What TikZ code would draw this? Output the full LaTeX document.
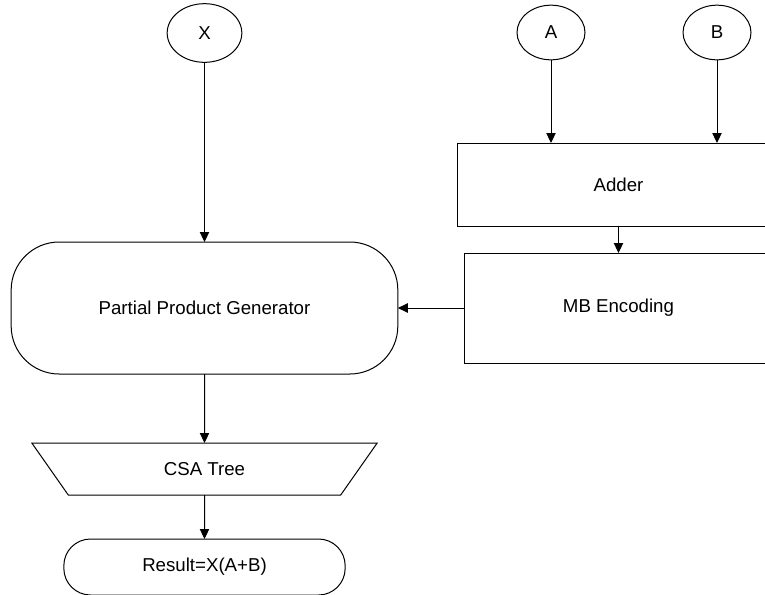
\documentclass[tikz,border=0pt]{standalone}
\usepackage{fontspec}
\setmainfont{Liberation Sans}
\usetikzlibrary{shapes.geometric,arrows.meta}

\begin{document}
\begin{tikzpicture}[x=0.75pt, y=-0.75pt,
    font=\fontsize{14}{16}\selectfont,
    every node/.style={draw, line width=0.75pt, outer sep=0pt, inner sep=2pt},
    inport/.style={ellipse, minimum width=51pt, minimum height=41pt},
    block/.style={rectangle},
    arr/.style={line width=0.75pt, -{Triangle[length=7.5pt, width=7pt]}}]
  \useasboundingbox (0,0) rectangle (765,594);

  % inputs
  \node[inport, minimum width=56pt, minimum height=44pt] (x) at (204.5,33) {X};
  \node[inport] (a) at (551,32.5) {A};
  \node[inport] (b) at (717,32.5) {B};

  % right column
  \node[block, minimum width=242pt, minimum height=62.25pt] (adder) at (618.5,184.5) {Adder};
  \node[block, minimum width=231pt, minimum height=82.5pt] (mb) at (618.5,308) {MB Encoding};

  % left column
  \node[rectangle, rounded corners=36pt, minimum width=290pt, minimum height=99pt] (ppg) at (204.5,308) {Partial Product Generator};
  \node[trapezium, trapezium angle=58, trapezium stretches=true, shape border rotate=180,
        minimum width=260pt, minimum height=39pt] (csa) at (204.5,469) {CSA Tree};
  \node[rectangle, rounded corners=20pt, minimum width=211pt, minimum height=42pt] (res) at (204.5,567) {Result=X(A+B)};

  % connectors
  \draw[arr] (x) -- (ppg);
  \draw[arr] (a) -- (a |- adder.north);
  \draw[arr] (b) -- (b |- adder.north);
  \draw[arr] (adder) -- (mb);
  \draw[arr] (mb) -- (ppg);
  \draw[arr] (ppg) -- (csa);
  \draw[arr] (csa) -- (res);
\end{tikzpicture}
\end{document}
